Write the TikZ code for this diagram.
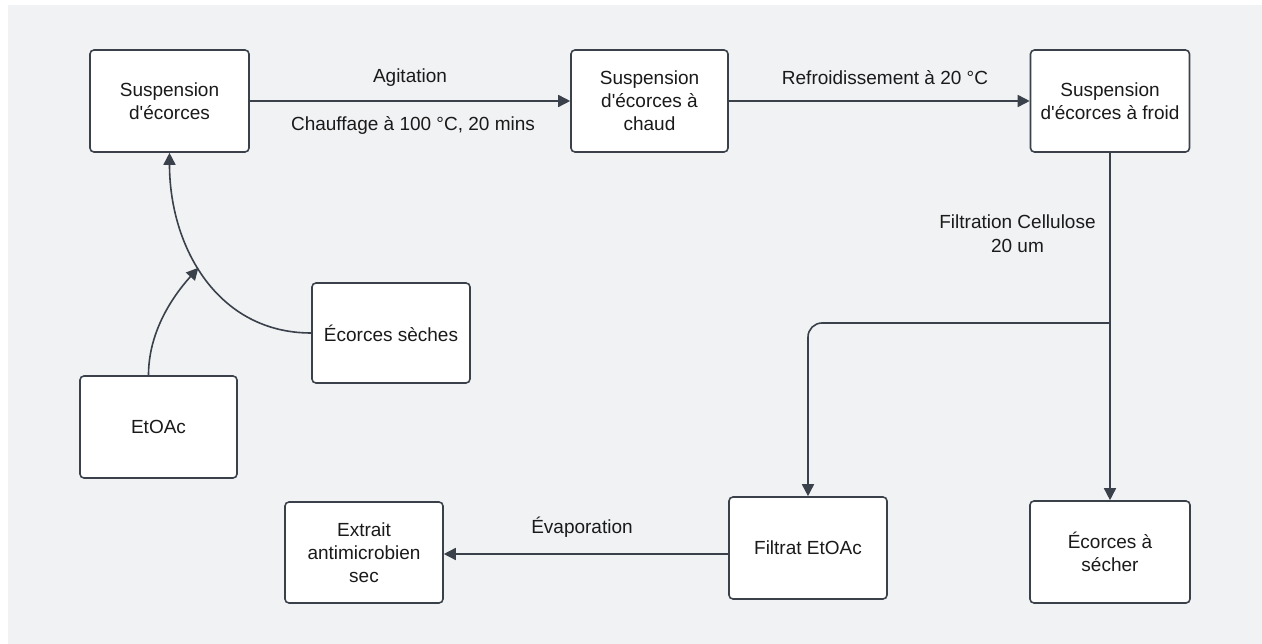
\documentclass[tikz,border=0pt]{standalone}
\usepackage{fontspec}
\setmainfont{Liberation Sans}[Ligatures=TeXOff]
\usetikzlibrary{arrows.meta}
\definecolor{bg}{HTML}{F1F2F4}
\definecolor{ink}{HTML}{3A414B}
\definecolor{txt}{HTML}{1A1A1A}
\tikzset{
  box/.style={draw=ink, line width=1.6pt, fill=white, rounded corners=4pt,
    align=center, inner sep=2pt, text=txt, font=\fontsize{19}{23}\selectfont},
  conn/.style={draw=ink, line width=1.6pt, -{Triangle[length=12pt,width=12pt]}},
  lbl/.style={text=txt, align=center, font=\fontsize{19}{24}\selectfont, inner sep=0pt}
}
\begin{document}
\begin{tikzpicture}[x=1pt,y=1pt]
  % canvas
  \useasboundingbox (0,0) rectangle (1262,-644);
  \fill[white] (0,0) rectangle (1262,-644);
  \fill[bg] (8,-5) rectangle (1262,-644);

  % process boxes
  \node[box, minimum width=159pt, minimum height=102pt] (s1) at (169.5,-101) {Suspension\\d'écorces};
  \node[box, minimum width=157pt, minimum height=102pt] (s2) at (649.5,-101) {Suspension\\d'écorces à\\chaud};
  \node[box, minimum width=159pt, minimum height=102pt] (s3) at (1110,-101) {Suspension\\d'écorces à froid};
  \node[box, minimum width=158pt, minimum height=100pt] (ecs) at (391,-333) {Écorces sèches};
  \node[box, minimum width=157pt, minimum height=102pt] (etoac) at (158.5,-427) {EtOAc};
  \node[box, minimum width=158pt, minimum height=101pt] (extr) at (364,-552.5) {Extrait\\antimicrobien\\sec};
  \node[box, minimum width=158pt, minimum height=102pt] (filt) at (808,-548) {Filtrat EtOAc};
  \node[box, minimum width=160pt, minimum height=102pt] (esech) at (1110,-552) {Écorces à\\sécher};

  % heating step
  \draw[conn] (s1) -- (s2);
  \node[lbl] (lagit) at (410,-78) {Agitation};
  \node[lbl] (lchauf) at (413,-125) {Chauffage à 100 °C, 20 mins};

  % cooling step
  \draw[conn] (s2) -- (s3);
  \node[lbl] (lrefr) at (885,-78) {Refroidissement à 20 °C};

  % filtration and split
  \coordinate (split) at (s3.south |- 0,-323);
  \draw[conn] (s3.south) -- (esech.north);
  \draw[conn, rounded corners=14pt] (split) -- (filt.north |- split) -- (filt.north);
  \node[lbl] (lfilt) at (1017.5,-234) {Filtration Cellulose\\20 um};

  % evaporation
  \coordinate (evy) at (0,-554);
  \draw[conn] (filt.west |- evy) -- (extr.east |- evy);
  \node[lbl] (levap) at (582,-527) {Évaporation};

  % dry bark and solvent feeding the suspension
  \draw[conn] (ecs.west) to[out=180,in=-90,looseness=1.05] coordinate[pos=0.55] (merge) (s1.south);
  \draw[conn] ([xshift=-10pt]etoac.north) to[out=90,in=228,looseness=0.9] (merge);
\end{tikzpicture}
\end{document}
